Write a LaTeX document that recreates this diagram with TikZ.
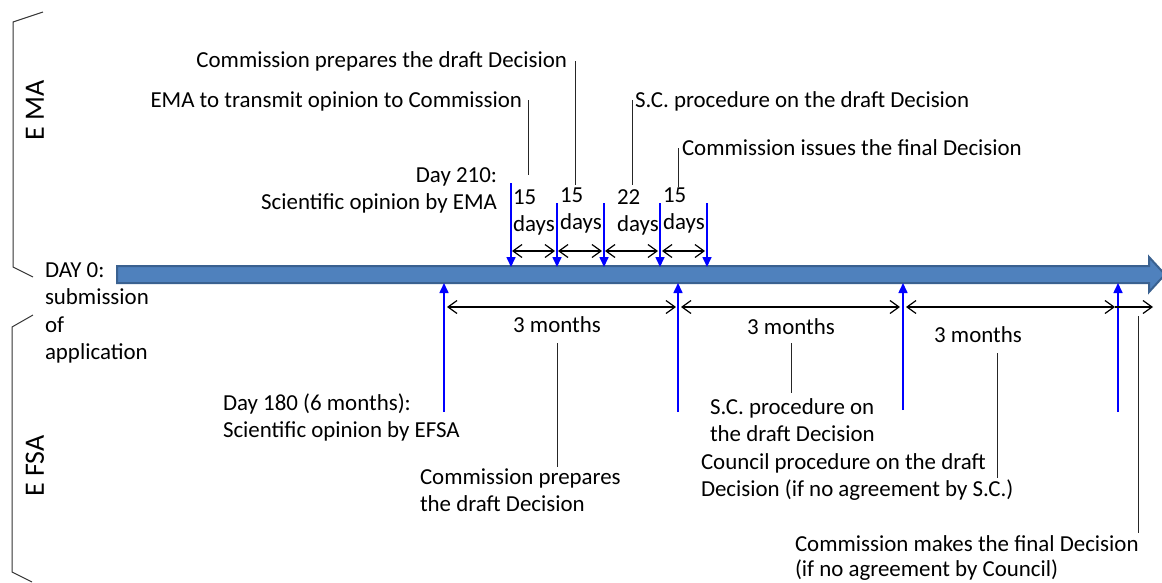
\documentclass[tikz,border=0pt]{standalone}
\usepackage{fontspec}
\setmainfont{Carlito}
\usetikzlibrary{arrows.meta}
\definecolor{barfill}{HTML}{4F81BD}
\definecolor{barline}{HTML}{3A6190}
\begin{document}
\begin{tikzpicture}[x=1pt,y=-1pt,
  font=\fontsize{22.9}{27.5}\selectfont,
  lbl/.style={inner sep=0pt, outer sep=0pt},
  side/.style={inner sep=0pt, outer sep=0pt, rotate=90, font=\fontsize{28}{32}\selectfont},
  bluearr/.style={blue, line width=1.6pt, -{Triangle[width=9pt,length=10pt]}},
  dimarr/.style={line width=1.2pt, {Straight Barb[length=9pt,width=13pt]}-{Straight Barb[length=9pt,width=13pt]}},
  onearr/.style={line width=1.2pt, -{Straight Barb[length=9pt,width=13pt]}},
  lead/.style={line width=1pt, black!85},
  brack/.style={line width=1pt, black!80}]
\useasboundingbox (0,0) rectangle (1162,582);

% main time bar
\draw[fill=barfill, draw=barline, line width=2pt] (117,266) -- (1149,266) -- (1149,257) -- (1165,274.5) -- (1149,292) -- (1149,283) -- (117,283) -- cycle;

% brackets
\draw[brack] (43,12) -- (13,22) -- (13,267) -- (33,277);
\draw[brack] (33,315) -- (12,327) -- (12,572) -- (32,582);
\node[side] (ema) at (35,110) {E MA};
\node[side] (efsa) at (35,466) {E FSA};

% texts top
\node[lbl, anchor=base east] (t1) at (567,67) {Commission prepares the draft Decision};
\node[lbl, anchor=base east] (t2) at (522,107) {EMA to transmit opinion to Commission};
\node[lbl, anchor=base west] (t3) at (635,107) {S.C. procedure on the draft Decision};
\node[lbl, anchor=base west] (t4) at (682,155) {Commission issues the final Decision};
\node[lbl, anchor=north east, align=right] (t5) at (497,162.75) {\strut Day 210:\\Scientific opinion by EMA};
\node[lbl, anchor=north west, align=left] (d1) at (513,184.75) {\strut 15\\days};
\node[lbl, anchor=north west, align=left] (d2) at (560,182.75) {\strut 15\\days};
\node[lbl, anchor=north west, align=left] (d3) at (617,184.75) {\strut 22\\days};
\node[lbl, anchor=north west, align=left] (d4) at (663,182.75) {\strut 15\\days};

% left text
\node[lbl, anchor=north west, align=left] (day0) at (45,257.75) {\strut DAY 0:\\submission\\of\\application};

% bottom texts
\node[lbl, anchor=north west, align=left] (b0) at (223,390.75) {\strut Day 180 (6 months):\\Scientific opinion by EFSA};
\node[lbl, anchor=base] (m1) at (557,332) {3 months};
\node[lbl, anchor=base] (m2) at (791,334) {3 months};
\node[lbl, anchor=base] (m3) at (978,342) {3 months};
\node[lbl, anchor=north west, align=left] (b1) at (420,464.75) {\strut Commission prepares\\the draft Decision};
\node[lbl, anchor=north west, align=left] (b2) at (710,394.75) {\strut S.C. procedure on\\the draft Decision};
\node[lbl, anchor=north west, align=left] (b3) at (701,449.75) {\strut Council procedure on the draft\\Decision (if no agreement by S.C.)};
\node[lbl, anchor=north west, align=left, font=\fontsize{22.9}{25}\selectfont] (b4) at (795,533.5) {\strut Commission makes the final Decision\\(if no agreement by Council)};

% coordinates: blue arrows top
\coordinate (a1s) at (511,183); \coordinate (a1e) at (511,267);
\coordinate (a2s) at (557,203); \coordinate (a2e) at (557,267);
\coordinate (a3s) at (604,203); \coordinate (a3e) at (604,267);
\coordinate (a4s) at (660,203); \coordinate (a4e) at (660,267);
\coordinate (a5s) at (707,203); \coordinate (a5e) at (707,267);
\foreach \i in {1,...,5} {\draw[bluearr] (a\i s) -- (a\i e);}

% blue arrows bottom
\coordinate (u1s) at (444,412); \coordinate (u1e) at (444,283);
\coordinate (u2s) at (678,412); \coordinate (u2e) at (678,283);
\coordinate (u3s) at (903,410); \coordinate (u3e) at (903,283);
\coordinate (u4s) at (1118,412); \coordinate (u4e) at (1118,283);
\foreach \i in {1,...,4} {\draw[bluearr] (u\i s) -- (u\i e);}

% dimension arrows top
\coordinate (p1) at (512,251); \coordinate (p2) at (555,251);
\coordinate (p3) at (558,251); \coordinate (p4) at (602,251);
\coordinate (p5) at (605,251); \coordinate (p6) at (658,251);
\coordinate (p7) at (662,251); \coordinate (p8) at (705,251);
\draw[dimarr] (p1) -- (p2);
\draw[dimarr] (p3) -- (p4);
\draw[dimarr] (p5) -- (p6);
\draw[dimarr] (p7) -- (p8);

% dimension arrows bottom
\coordinate (q1) at (447,307); \coordinate (q2) at (676,307);
\coordinate (q3) at (681,307); \coordinate (q4) at (900,307);
\coordinate (q5) at (906,307); \coordinate (q6) at (1115,307);
\coordinate (q7) at (1115,307); \coordinate (q8) at (1153,307);
\draw[dimarr] (q1) -- (q2);
\draw[dimarr] (q3) -- (q4);
\draw[dimarr] (q5) -- (q6);
\draw[onearr] (q7) -- (q8);

% leader lines top
\coordinate (l1a) at (575,61); \coordinate (l1b) at (575,185);
\coordinate (l2a) at (528,100); \coordinate (l2b) at (528,175);
\coordinate (l3a) at (632,100); \coordinate (l3b) at (632,185);
\coordinate (l4a) at (678,148); \coordinate (l4b) at (678,187);
\draw[lead] (l1a) -- (l1b);
\draw[lead] (l2a) -- (l2b);
\draw[lead] (l3a) -- (l3b);
\draw[lead] (l4a) -- (l4b);

% leader lines bottom
\coordinate (k1a) at (557,343); \coordinate (k1b) at (557,467);
\coordinate (k2a) at (791,343); \coordinate (k2b) at (791,393);
\coordinate (k3a) at (997,353); \coordinate (k3b) at (997,478);
\coordinate (k4a) at (1138,316); \coordinate (k4b) at (1138,533);
\draw[lead] (k1a) -- (k1b);
\draw[lead] (k2a) -- (k2b);
\draw[lead] (k3a) -- (k3b);
\draw[lead] (k4a) -- (k4b);
\end{tikzpicture}
\end{document}
